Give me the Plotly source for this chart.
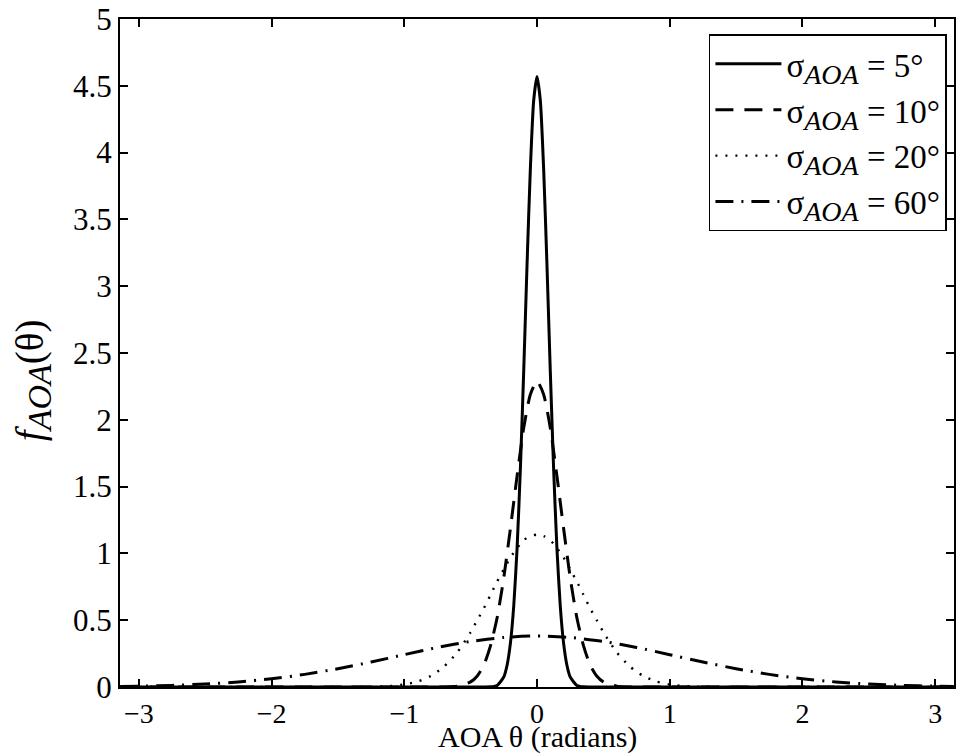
import plotly.graph_objects as go

# sigma = 5 deg
x5 = [-3.14, -1.0, -0.4, -0.35, -0.3, -0.25, -0.225, -0.2, -0.175, -0.15, -0.125, -0.1, -0.075, -0.05, -0.025,
      0.0, 0.025, 0.05, 0.075, 0.1, 0.125, 0.15, 0.175, 0.2, 0.225, 0.25, 0.3, 0.35, 0.4, 1.0, 3.14]
y5 = [0.0, 0.0, 0.0, 0.0015, 0.012, 0.076, 0.165, 0.33, 0.61, 1.04, 1.64, 2.37, 3.16, 3.88, 4.39,
      4.57, 4.39, 3.88, 3.16, 2.37, 1.64, 1.04, 0.61, 0.33, 0.165, 0.076, 0.012, 0.0015, 0.0, 0.0, 0.0]

# sigma = 10 deg
x10 = [-3.14, -1.5, -0.8, -0.7, -0.6, -0.5, -0.45, -0.4, -0.35, -0.3, -0.25, -0.2, -0.15, -0.1, -0.05,
       0.0, 0.05, 0.1, 0.15, 0.2, 0.25, 0.3, 0.35, 0.4, 0.45, 0.5, 0.6, 0.7, 0.8, 1.5, 3.14]
y10 = [0.0, 0.0, 0.0, 0.0007, 0.0062, 0.038, 0.082, 0.165, 0.31, 0.52, 0.82, 1.19, 1.58, 1.94, 2.19,
       2.29, 2.19, 1.94, 1.58, 1.19, 0.82, 0.52, 0.31, 0.165, 0.082, 0.038, 0.0062, 0.0007, 0.0, 0.0, 0.0]

# sigma = 20 deg
x20 = [-3.14, -1.6, -1.4, -1.2, -1.1, -1.0, -0.9, -0.8, -0.7, -0.6, -0.5, -0.45, -0.4, -0.35, -0.3, -0.25,
       -0.2, -0.15, -0.1, -0.05, 0.0, 0.05, 0.1, 0.15, 0.2, 0.25, 0.3, 0.35, 0.4, 0.45, 0.5, 0.6, 0.7,
       0.8, 0.9, 1.0, 1.1, 1.2, 1.4, 1.6, 3.14]
y20 = [0.0, 0.0, 0.0004, 0.0031, 0.008, 0.0188, 0.041, 0.083, 0.153, 0.26, 0.41, 0.50, 0.59, 0.69, 0.79, 0.88,
       0.97, 1.04, 1.10, 1.13, 1.14, 1.13, 1.10, 1.04, 0.97, 0.88, 0.79, 0.69, 0.59, 0.50, 0.41, 0.26, 0.153,
       0.083, 0.041, 0.0188, 0.008, 0.0031, 0.0004, 0.0, 0.0]

# sigma = 60 deg
x60 = [-3.14, -3.0, -2.75, -2.5, -2.25, -2.0, -1.75, -1.5, -1.25, -1.0, -0.75, -0.5, -0.25,
       0.0, 0.25, 0.5, 0.75, 1.0, 1.25, 1.5, 1.75, 2.0, 2.25, 2.5, 2.75, 3.0, 3.14]
y60 = [0.0043, 0.0063, 0.0121, 0.0221, 0.038, 0.0616, 0.0946, 0.137, 0.187, 0.242, 0.296, 0.341, 0.371,
       0.382, 0.371, 0.341, 0.296, 0.242, 0.187, 0.137, 0.0946, 0.0616, 0.038, 0.0221, 0.0121, 0.0063, 0.0043]

SUB = "<sub><span style='font-size:28px'><i>AOA</i></span></sub>"
names = [f"σ{SUB} = 5°", f"σ{SUB} = 10°", f"σ{SUB} = 20°", f"σ{SUB} = 60°"]

x_ticks = [-3, -2, -1, 0, 1, 2, 3]
y_ticks = [0, 0.5, 1, 1.5, 2, 2.5, 3, 3.5, 4, 4.5, 5]
y_tick_text = ["0", "0.5", "1", "1.5", "2", "2.5", "3", "3.5", "4", "4.5", "5"]
x_tick_text = ["−3", "−2", "−1", "0", "1", "2", "3"]

styles = [
    dict(dash="solid", width=3),
    dict(dash="18px,11px", width=3),
    dict(dash="2px,8px", width=2.4),
    dict(dash="18px,8px,2px,8px", width=3),
]

fig = go.Figure()
for xs, ys, nm, st in zip([x5, x10, x20, x60], [y5, y10, y20, y60], names, styles):
    fig.add_trace(go.Scatter(x=xs, y=ys, mode="lines", name=nm,
                             line=dict(color="black", width=st["width"], dash=st["dash"],
                                       shape="spline", smoothing=0.6)))

FONT = "Liberation Serif, Times New Roman, Times, serif"
MB = 68
PLOT_H = 755 - 17 - MB
fig.update_layout(
    width=958, height=755,
    margin=dict(l=120, r=2, t=17, b=MB),
    paper_bgcolor="white", plot_bgcolor="white",
    font=dict(family=FONT, size=30, color="black"),
    showlegend=True,
    legend=dict(x=0.9915, y=0.977, xanchor="right", yanchor="top",
                bgcolor="white", bordercolor="black", borderwidth=1.5,
                font=dict(family=FONT, size=33, color="black"),
                tracegroupgap=0, itemwidth=66),
    xaxis=dict(range=[-3.1416, 3.1416], tickvals=x_ticks, ticktext=x_tick_text,
               ticks="inside", ticklen=8, tickwidth=1.5, tickcolor="black",
               showline=True, linecolor="black", linewidth=2, mirror="ticks",
               showgrid=False, zeroline=False, ticklabeloverflow="allow",
               tickfont=dict(family=FONT, size=28)),
    yaxis=dict(range=[0, 5], tickvals=y_ticks, ticktext=y_tick_text,
               ticks="inside", ticklen=8, tickwidth=1.5, tickcolor="black",
               showline=True, linecolor="black", linewidth=2, mirror="ticks",
               showgrid=False, zeroline=False, ticklabeloverflow="allow",
               tickfont=dict(family=FONT, size=31)),
    annotations=[
        dict(text="AOA θ (radians)", xref="paper", yref="paper", x=0.5, y=-MB / PLOT_H,
             xanchor="center", yanchor="bottom", showarrow=False, borderpad=0,
             font=dict(family=FONT, size=30, color="black")),
        dict(text="<i>f</i><sub><span style='font-size:34px'><i>AOA</i></span></sub>(θ)",
             xref="paper", yref="paper", x=-0.105, y=0.46, textangle=-90,
             xanchor="center", yanchor="middle", showarrow=False,
             font=dict(family=FONT, size=39, color="black")),
    ],
)

fig.write_html("out.html")
